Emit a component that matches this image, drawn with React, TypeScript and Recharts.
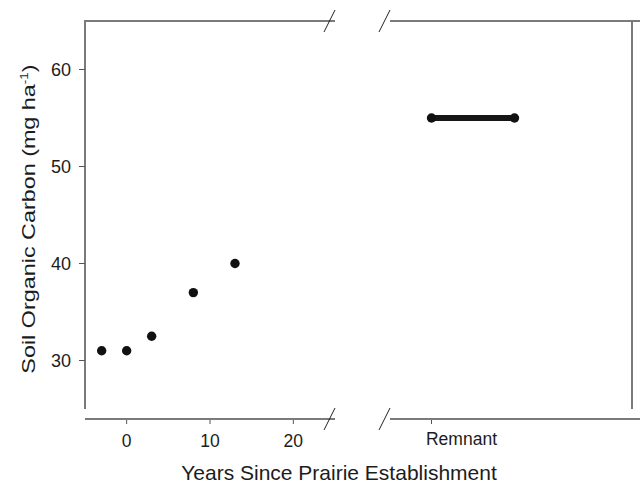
import React from "react";
import { ScatterChart, Scatter, XAxis, YAxis } from "recharts";

// years since establishment and soil organic carbon
const years = [-3, 0, 3, 8, 13];
const carbon = [31, 31, 32.5, 37, 40];
const yearTicks = [0, 10, 20];

// remnant prairie: drawn as a bar across the right panel
const remnantSpan = [1, 3];
const remnantCarbon = 55;
const remnantTicks = [1];
const remnantLabel = "Remnant";

const carbonTicks = [30, 40, 50, 60];

const FONT = "'Liberation Sans', Arial, sans-serif";
const TEXT = "#1c1c1c";
const FRAME = "#7a7a7a";

const leftData = years.map((x, i) => ({ x, y: carbon[i] }));
const rightData = remnantSpan.map((x) => ({ x, y: remnantCarbon }));

const Dot = (props: any) => {
  const { cx, cy } = props;
  if (cx == null || cy == null) return null;
  return <circle cx={cx} cy={cy} r={4.7} fill="#111" />;
};

const YearTick = (props: any) => {
  const { x, y, payload } = props;
  return (
    <g>
      <line x1={x} x2={x} y1={y + 10} y2={y + 15} stroke="#555" strokeWidth={1} />
      <text x={x} y={y + 38} textAnchor="middle" fontSize={17.5} fill={TEXT} fontFamily={FONT}>
        {payload.value}
      </text>
    </g>
  );
};

const RemnantTick = (props: any) => {
  const { x, y } = props;
  return (
    <g>
      <line x1={x} x2={x} y1={y + 10} y2={y + 15} stroke="#555" strokeWidth={1} />
      <text x={x + 30} y={y + 36} textAnchor="middle" fontSize={17.5} fill={TEXT} fontFamily={FONT}>
        {remnantLabel}
      </text>
    </g>
  );
};

const margin = { top: 21, bottom: 17 };

export default function App() {
  return (
    <div style={{ position: "absolute", left: 0, top: 0, width: 640, height: 486, background: "#fff" }}>
      <div style={{ position: "absolute", left: 0, top: 0 }}>
        <ScatterChart width={360} height={486} margin={{ ...margin, left: 0, right: 25 }}>
          <XAxis
            type="number"
            dataKey="x"
            domain={[-5, 25]}
            ticks={yearTicks}
            axisLine={false}
            tickLine={false}
            tickSize={0}
            tickMargin={0}
            height={60}
            tick={<YearTick />}
          />
          <YAxis
            type="number"
            dataKey="y"
            domain={[25, 65]}
            ticks={carbonTicks}
            width={85}
            axisLine={{ stroke: FRAME, strokeWidth: 2 }}
            tickLine={{ stroke: "#555" }}
            tickSize={6}
            tickMargin={8}
            tick={{ fill: TEXT, fontSize: 18, fontFamily: FONT }}
          />
          <Scatter data={leftData} shape={<Dot />} isAnimationActive={false} />
        </ScatterChart>
      </div>
      <div style={{ position: "absolute", left: 0, top: 0 }}>
        <ScatterChart width={640} height={486} margin={{ ...margin, left: 390, right: 1 }}>
          <XAxis
            type="number"
            dataKey="x"
            domain={[0, 6]}
            ticks={remnantTicks}
            axisLine={false}
            tickLine={false}
            tickSize={0}
            tickMargin={0}
            height={60}
            tick={<RemnantTick />}
          />
          <YAxis type="number" dataKey="y" domain={[25, 65]} hide />
          <Scatter
            data={rightData}
            shape={<Dot />}
            line={{ stroke: "#161616", strokeWidth: 6 }}
            isAnimationActive={false}
          />
        </ScatterChart>
      </div>
      <svg
        width={640}
        height={486}
        style={{ position: "absolute", left: 0, top: 0, pointerEvents: "none" }}
        fontFamily={FONT}
      >
        {/* frame pieces and axis breaks */}
        <g stroke={FRAME} strokeWidth={2}>
          <line x1={84} y1={21} x2={335} y2={21} />
          <line x1={390} y1={21} x2={640} y2={21} />
          <line x1={632} y1={21} x2={632} y2={409} />
          <line x1={85} y1={419} x2={335} y2={419} />
          <line x1={390} y1={419} x2={640} y2={419} />
        </g>
        <g stroke="#222" strokeWidth={1}>
          <line x1={324} y1={32} x2={335} y2={10} />
          <line x1={379} y1={32} x2={390} y2={10} />
          <line x1={324} y1={430} x2={335} y2={408} />
          <line x1={379} y1={430} x2={390} y2={408} />
        </g>
        <text x={339} y={480} textAnchor="middle" fontSize={21} fill={TEXT}>
          Years Since Prairie Establishment
        </text>
        <text
          transform="translate(35,219) rotate(-90) scale(1.23,1)"
          textAnchor="middle"
          fontSize={19}
          fill={TEXT}
        >
          Soil Organic Carbon (mg ha
          <tspan dy={-7} fontSize={11}>-1</tspan>
          <tspan dy={7}>)</tspan>
        </text>
      </svg>
    </div>
  );
}
